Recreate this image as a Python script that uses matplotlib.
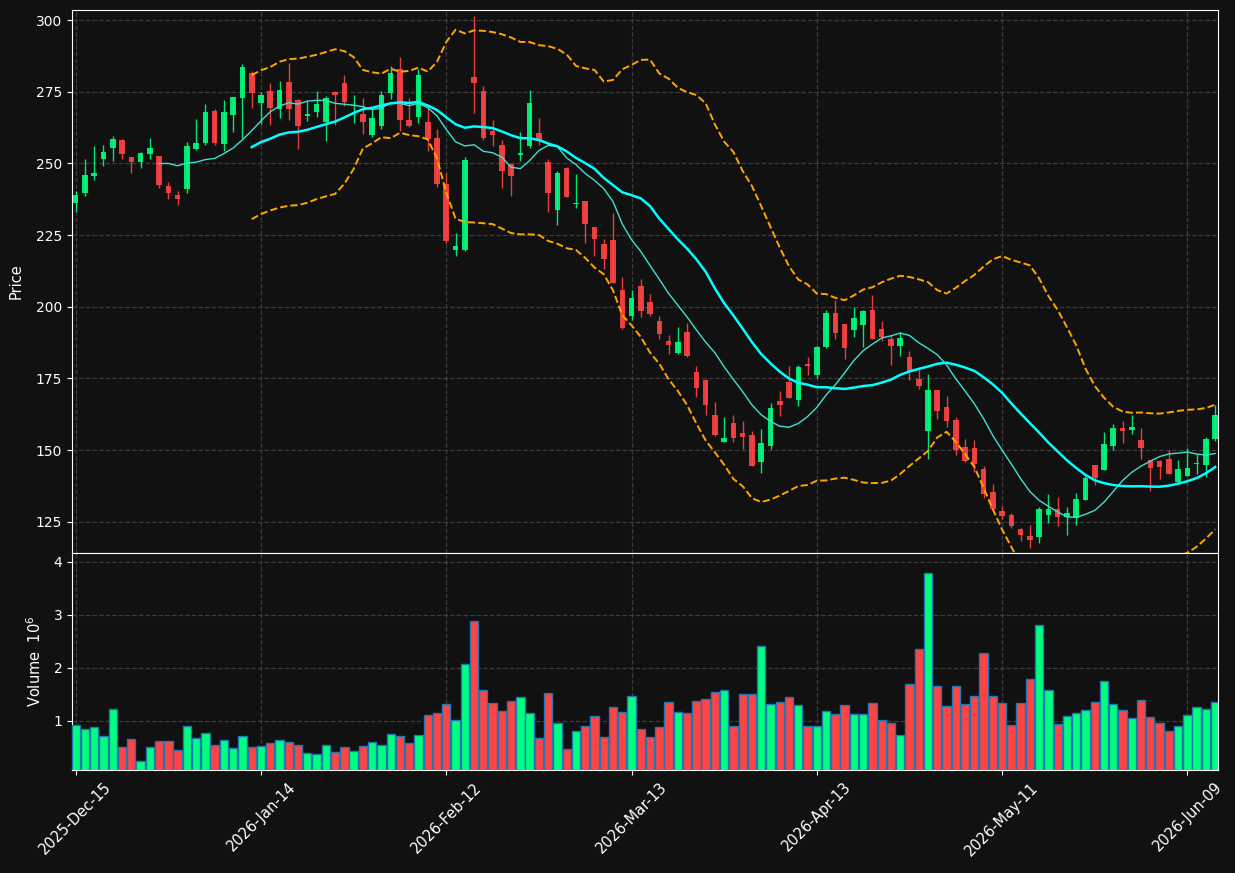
import numpy as np
import pandas as pd
import matplotlib
matplotlib.use("Agg")
import matplotlib.pyplot as plt

# ---------------------------------------------------
# Data
# ---------------------------------------------------
holidays = ["2025-12-25", "2026-01-01", "2026-01-19", "2026-02-16",
            "2026-04-03", "2026-05-25"]
dates = pd.bdate_range("2025-12-15", "2026-06-12", freq="C", holidays=holidays)

opens = [236.3, 239.5, 245.7, 251.6, 255.4, 258.1, 252.2, 250.6, 253.4, 252.5,
         242.1, 239.1, 240.9, 255.0, 257.1, 268.2, 256.7, 266.9, 272.7, 281.4,
         270.9, 275.1, 269.0, 278.3, 272.0, 266.5, 267.9, 264.3, 274.8, 277.9,
         270.0, 267.1, 259.9, 262.9, 274.4, 282.8, 265.0, 266.2, 264.3, 258.7,
         242.7, 219.7, 219.7, 280.0, 275.1, 261.2, 256.4, 249.8, 253.0, 256.0,
         260.5, 250.5, 233.6, 248.4, 235.7, 236.9, 227.9, 222.0, 223.4, 206.0,
         196.6, 207.1, 201.5, 194.9, 187.9, 183.9, 191.1, 177.1, 174.4, 162.2,
         152.9, 159.3, 156.1, 155.2, 145.9, 151.5, 167.1, 173.7, 167.5, 179.9,
         176.1, 185.8, 197.7, 193.9, 191.8, 193.6, 198.7, 192.1, 188.6, 186.3,
         182.4, 174.8, 156.7, 170.9, 165.0, 160.4, 151.0, 150.7, 143.4, 135.4,
         128.9, 127.2, 122.3, 120.0, 119.8, 127.5, 129.6, 126.6, 126.3, 132.5,
         144.9, 143.2, 151.5, 157.8, 157.1, 153.6, 146.6, 146.3, 147.0, 138.7,
         141.1, 145.1, 144.9, 153.9]
highs = [240.5, 251.5, 255.9, 256.3, 259.4, 258.5, 252.3, 254.0, 259.0, 252.5,
         243.4, 240.3, 257.6, 265.6, 270.6, 269.1, 272.2, 273.0, 284.7, 282.4,
         274.9, 278.1, 278.6, 285.1, 272.6, 271.9, 275.3, 273.6, 275.1, 280.9,
         274.0, 272.7, 269.1, 275.1, 284.0, 287.0, 272.7, 282.8, 270.6, 262.1,
         246.8, 225.7, 252.4, 301.5, 276.9, 265.2, 258.0, 249.8, 260.8, 275.5,
         266.0, 251.7, 247.2, 248.8, 246.2, 236.9, 227.9, 223.6, 232.6, 210.4,
         206.0, 209.5, 204.5, 196.6, 190.0, 193.0, 194.2, 179.4, 174.9, 166.9,
         161.7, 162.1, 160.0, 156.5, 157.2, 166.5, 170.5, 179.4, 179.5, 182.4,
         186.3, 198.8, 202.2, 193.9, 199.8, 198.7, 204.1, 194.9, 190.3, 191.2,
         184.7, 178.3, 176.6, 170.9, 168.8, 161.5, 153.7, 153.4, 144.4, 138.2,
         130.4, 128.1, 122.9, 123.7, 130.1, 134.7, 133.7, 130.1, 135.1, 140.9,
         144.9, 156.4, 159.1, 160.2, 162.3, 157.8, 146.6, 146.6, 150.1, 146.6,
         150.8, 148.7, 154.6, 165.7]
lows = [233.0, 238.8, 244.3, 249.2, 251.0, 251.7, 246.5, 248.3, 251.7, 241.3,
        237.7, 235.4, 239.8, 254.6, 256.5, 256.5, 254.3, 261.1, 259.0, 269.3,
        263.6, 263.3, 265.8, 265.2, 255.1, 264.8, 266.2, 257.9, 263.3, 270.0,
        264.2, 260.2, 259.3, 261.9, 272.5, 261.2, 262.6, 264.2, 254.4, 241.9,
        222.4, 217.7, 219.5, 267.6, 258.2, 256.2, 241.3, 238.8, 250.7, 255.2,
        256.3, 233.0, 228.5, 238.2, 234.3, 222.1, 217.7, 213.3, 208.2, 192.4,
        195.5, 196.4, 196.8, 188.9, 183.5, 183.5, 182.5, 168.6, 162.3, 155.0,
        152.9, 152.9, 150.5, 144.5, 142.0, 150.2, 162.0, 168.2, 165.2, 176.2,
        175.3, 185.5, 188.9, 181.9, 189.3, 185.8, 188.8, 188.1, 179.6, 182.7,
        174.5, 171.2, 147.0, 161.0, 157.9, 148.4, 145.9, 142.2, 133.4, 129.2,
        126.0, 122.9, 118.3, 116.0, 117.4, 124.5, 123.4, 120.3, 123.8, 132.5,
        137.7, 143.2, 150.0, 152.4, 155.7, 147.0, 135.8, 140.0, 141.8, 138.3,
        141.1, 141.8, 140.7, 153.2]
closes = [239.1, 245.9, 246.6, 253.9, 258.5, 253.4, 250.6, 253.6, 255.3, 242.6,
          239.5, 237.7, 255.9, 257.1, 267.8, 257.1, 267.8, 273.0, 283.8, 274.5,
          273.7, 269.5, 275.5, 269.0, 263.0, 267.4, 270.6, 272.7, 273.7, 271.3,
          270.3, 264.4, 265.7, 273.7, 281.7, 265.1, 262.9, 280.7, 258.6, 242.8,
          222.9, 221.3, 251.2, 277.9, 258.9, 260.0, 247.5, 245.7, 253.5, 270.9,
          257.9, 239.5, 246.6, 238.4, 236.0, 228.7, 223.8, 216.8, 208.2, 192.7,
          203.0, 198.5, 197.4, 190.5, 186.7, 187.6, 182.7, 171.7, 165.8, 155.3,
          154.1, 154.3, 154.6, 144.5, 152.4, 164.6, 165.8, 168.2, 178.9, 179.4,
          185.8, 197.7, 190.8, 185.5, 195.9, 198.6, 188.8, 189.6, 186.3, 189.0,
          177.6, 172.3, 170.9, 163.7, 160.2, 150.1, 146.3, 145.2, 134.5, 129.6,
          127.0, 123.5, 120.4, 118.6, 129.3, 129.3, 126.6, 128.1, 132.8, 140.4,
          140.4, 152.2, 157.8, 156.7, 158.1, 150.8, 143.9, 144.2, 141.8, 143.5,
          143.9, 145.6, 153.9, 162.3]
# volume in millions
volumes = [0.925, 0.85, 0.89, 0.72, 1.23, 0.51, 0.66, 0.245, 0.51, 0.62,
           0.62, 0.45, 0.91, 0.68, 0.77, 0.55, 0.64, 0.49, 0.72, 0.51,
           0.53, 0.585, 0.64, 0.60, 0.55, 0.40, 0.38, 0.55, 0.415, 0.51,
           0.43, 0.53, 0.60, 0.55, 0.755, 0.72, 0.585, 0.74, 1.11, 1.15,
           1.32, 1.02, 2.075, 2.89, 1.585, 1.33, 1.18, 1.38, 1.45, 1.15,
           0.68, 1.53, 0.96, 0.47, 0.81, 0.905, 1.09, 0.70, 1.26, 1.17,
           1.47, 0.85, 0.70, 0.89, 1.36, 1.17, 1.15, 1.38, 1.415, 1.55,
           1.585, 0.905, 1.51, 1.51, 2.415, 1.32, 1.36, 1.45, 1.30, 0.905,
           0.905, 1.19, 1.13, 1.30, 1.13, 1.13, 1.34, 1.02, 0.96, 0.74,
           1.70, 2.36, 3.79, 1.66, 1.28, 1.66, 1.32, 1.47, 2.28, 1.47,
           1.34, 0.925, 1.34, 1.79, 2.81, 1.585, 0.94, 1.09, 1.15, 1.21,
           1.36, 1.755, 1.32, 1.21, 1.06, 1.40, 1.075, 0.96, 0.81, 0.905,
           1.11, 1.26, 1.23, 1.36]

df = pd.DataFrame({"Open": opens, "High": highs, "Low": lows,
                   "Close": closes, "Volume": volumes}, index=dates)

# indicators
ma10 = df["Close"].rolling(10).mean()
ma20 = df["Close"].rolling(20).mean()
sd20 = df["Close"].rolling(20).std()
bb_up = ma20 + 2 * sd20
bb_lo = ma20 - 2 * sd20

# ---------------------------------------------------
# Style
# ---------------------------------------------------
BG = "#111111"
UP = "#00ff7f"
DOWN = "#ff4444"
GRID = "#3c3c3c"

fig = plt.figure(figsize=(12.35, 8.73), dpi=100, facecolor=BG)
ax = fig.add_axes([0.0583, 0.3666, 0.9279, 0.6219], facecolor=BG)
axv = fig.add_axes([0.0583, 0.1180, 0.9279, 0.2486], facecolor=BG, sharex=ax)

x = np.arange(len(df))
up = df["Close"] >= df["Open"]
colors = np.where(up, UP, DOWN)

# candles
body_lo = np.minimum(df["Open"], df["Close"])
body_h = np.maximum(np.abs(df["Close"] - df["Open"]), 0.4)
ax.vlines(x, df["Low"], df["High"], colors=colors, linewidth=1, alpha=0.9, zorder=3)
ax.bar(x, body_h, width=0.6, bottom=body_lo, color=colors, alpha=0.9,
       linewidth=0, zorder=4)

# moving averages / bands
ax.plot(x, ma10, color="#40e0d0", linewidth=1, zorder=5)
ax.plot(x, ma20, color="#00ffff", linewidth=1.8, zorder=5)
ax.plot(x, bb_up, color="#ffa500", linewidth=1.4, linestyle="--", zorder=5)
ax.plot(x, bb_lo, color="#ffa500", linewidth=1.4, linestyle="--", zorder=5)

# volume
axv.bar(x, df["Volume"], width=0.9, color=colors, edgecolor="#1f77b4",
        linewidth=1, zorder=3)

# ---------------------------------------------------
# Axes
# ---------------------------------------------------
tick_pos = list(range(0, len(df), 20))
tick_lab = [dates[i].strftime("%Y-%b-%d") for i in tick_pos]

ax.set_xlim(-0.4, 123.3)
ax.set_ylim(114.1, 303.5)
axv.set_ylim(0.075, 4.17)

ax.set_yticks([125, 150, 175, 200, 225, 250, 275, 300])
axv.set_yticks([1, 2, 3, 4])
axv.set_xticks(tick_pos)
axv.set_xticklabels(tick_lab, rotation=45, ha="center")
ax.tick_params(axis="x", which="both", bottom=False, labelbottom=False)

for a in (ax, axv):
    a.grid(True, color=GRID, linestyle="--", linewidth=0.9)
    a.set_axisbelow(True)
    a.tick_params(colors="white", labelsize=10)
    for s in a.spines.values():
        s.set_color("white")
axv.tick_params(axis="x", labelsize=10.5)

ax.set_ylabel("Price", color="white", fontsize=10.5, labelpad=9)
axv.set_ylabel("Volume  $10^{6}$", color="white", fontsize=10.5, labelpad=7)

fig.savefig("out.png", dpi=100, facecolor=BG)
